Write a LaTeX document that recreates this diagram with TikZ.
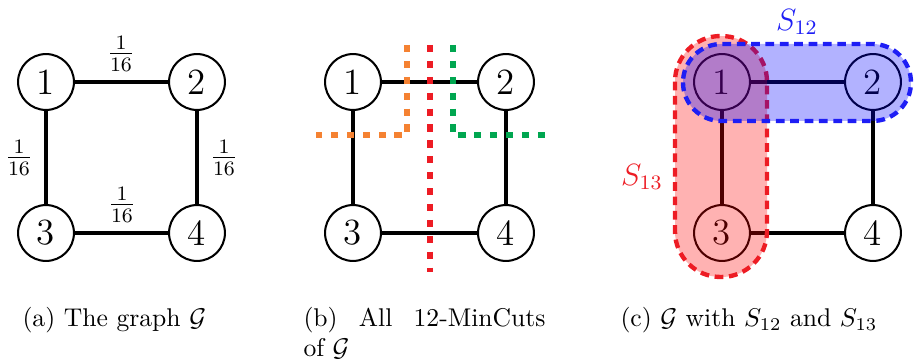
\documentclass[tikz,border=0pt]{standalone}
\usepackage{amsmath}
\begin{document}
\begin{tikzpicture}[x=0.39pt,y=-0.39pt,
  vert/.style={circle,draw,thick,minimum size=21.8pt,inner sep=0pt,font=\Large},
  edge/.style={line width=1.6pt},
  cut/.style={line width=2.6pt,dash pattern=on 2.8pt off 3.4pt},
  region/.style={line width=1.7pt,dash pattern=on 3.4pt off 2.2pt,fill opacity=0.3},
  wlab/.style={inner sep=0pt,font=\large}]
\definecolor{cutorange}{RGB}{245,130,50}
\definecolor{cutgreen}{RGB}{0,166,80}
\definecolor{cutred}{RGB}{237,28,36}
\definecolor{regblue}{RGB}{30,30,245}
\useasboundingbox (0,0) rectangle (914,363);
% panel (a)
\node[vert] (a1) at (46,82) {1};
\node[vert] (a2) at (197,82) {2};
\node[vert] (a3) at (46,233) {3};
\node[vert] (a4) at (197,233) {4};
\draw[edge] (a1) -- (a2);
\draw[edge] (a1) -- (a3);
\draw[edge] (a2) -- (a4);
\draw[edge] (a3) -- (a4);
\node[wlab] (w12) at (121,54) {$\frac{1}{16}$};
\node[wlab] (w13) at (19,158) {$\frac{1}{16}$};
\node[wlab] (w24) at (224,158) {$\frac{1}{16}$};
\node[wlab] (w34) at (122,205) {$\frac{1}{16}$};
% panel (b)
\node[vert] (b1) at (353,82) {1};
\node[vert] (b2) at (506,82) {2};
\node[vert] (b3) at (353,233) {3};
\node[vert] (b4) at (506,233) {4};
\draw[edge] (b1) -- (b2);
\draw[edge] (b1) -- (b3);
\draw[edge] (b2) -- (b4);
\draw[edge] (b3) -- (b4);
\coordinate (o1) at (407,45);
\coordinate (o2) at (407,135);
\coordinate (o3) at (316,135);
\coordinate (r1) at (430,45);
\coordinate (r2) at (430,272);
\coordinate (g1) at (453,45);
\coordinate (g2) at (453,135);
\coordinate (g3) at (545,135);
\draw[cut,cutorange] (o1) -- (o2) -- (o3);
\draw[cut,cutred] (r1) -- (r2);
\draw[cut,cutgreen] (g1) -- (g2) -- (g3);
% panel (c)
\node[vert] (c1) at (722,82) {1};
\node[vert] (c2) at (873,82) {2};
\node[vert] (c3) at (722,233) {3};
\node[vert] (c4) at (873,233) {4};
\draw[edge] (c1) -- (c2);
\draw[edge] (c1) -- (c3);
\draw[edge] (c2) -- (c4);
\draw[edge] (c3) -- (c4);
\draw[region,draw=cutred,fill=red,rounded corners=17.8pt] (675,36) rectangle (767,277);
\draw[region,draw=regblue,fill=blue,rounded corners=15pt] (683,44) rectangle (911,121);
\node[regblue,font=\large] (s12) at (797,22) {$S_{12}$};
\node[cutred,font=\large] (s13) at (642,177) {$S_{13}$};
% captions
\node[anchor=base west,inner sep=0pt] (capa) at (22,327) {(a) The graph $\mathcal{G}$};
\node[anchor=base west,inner sep=0pt] (capb1) at (303,327) {\hbox to 94.4pt{(b)\hfill All\hfill 12-MinCuts}};
\node[anchor=base west,inner sep=0pt] (capb2) at (303,357) {of $\mathcal{G}$};
\node[anchor=base west,inner sep=0pt] (capc) at (620,327) {(c) $\mathcal{G}$ with $S_{12}$ and $S_{13}$};
\end{tikzpicture}
\end{document}
